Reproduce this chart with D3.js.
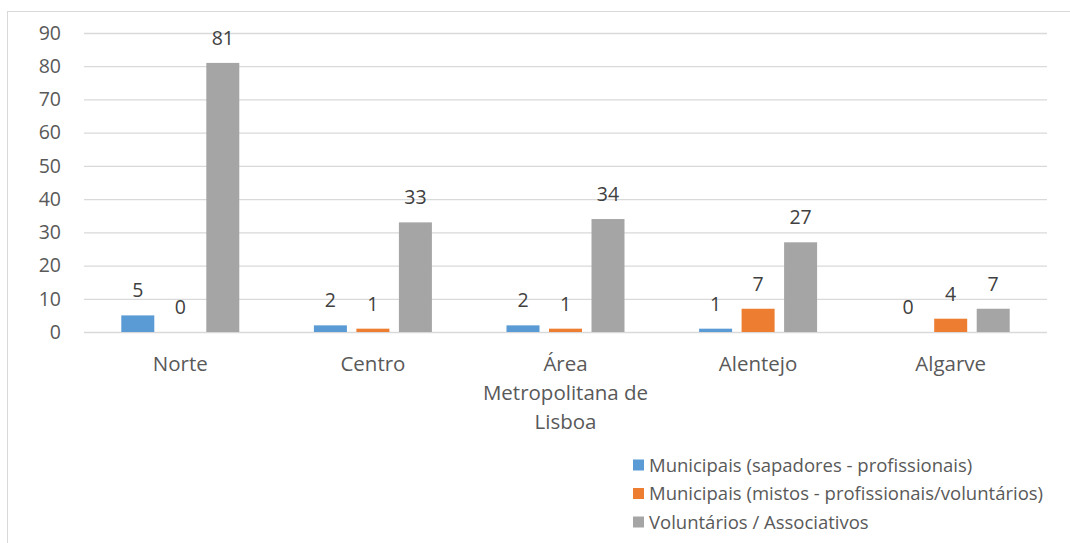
<!DOCTYPE html>
<html>
<head>
<meta charset="utf-8">
<script src="https://d3js.org/d3.v7.min.js"></script>
<style>
body { margin: 0; background: #fff; }
svg text { font-family: "Open Sans", Lato, sans-serif; }
</style>
</head>
<body>
<div id="graphic"></div>
<script>
var categories = ["Norte", "Centro", "Área Metropolitana de Lisboa", "Alentejo", "Algarve"];
var categoryLines = [["Norte"], ["Centro"], ["Área", "Metropolitana de", "Lisboa"], ["Alentejo"], ["Algarve"]];
var seriesNames = [
	"Municipais (sapadores - profissionais)",
	"Municipais (mistos - profissionais/voluntários)",
	"Voluntários / Associativos"
];
var sapadores = [5, 2, 2, 1, 0];
var mistos = [0, 1, 1, 7, 4];
var voluntarios = [81, 33, 34, 27, 7];
var yTicks = [0, 10, 20, 30, 40, 50, 60, 70, 80, 90];
var colours = ["#5B9BD5", "#ED7D31", "#A5A5A5"];

var width = 1070, height = 543;
var plot = { left: 84, right: 1047, top: 33, bottom: 332 };

var svg = d3.select("#graphic").append("svg")
	.attr("width", width)
	.attr("height", height);

// chart border
svg.append("rect")
	.attr("x", 7.5).attr("y", 11.5)
	.attr("width", 1080).attr("height", 560)
	.attr("fill", "none")
	.attr("stroke", "#D9D9D9")
	.attr("stroke-width", 1);

var x = d3.scaleBand().domain(categories).range([plot.left, plot.right]);
var y = d3.scaleLinear().domain([0, 90]).range([plot.bottom, plot.top]);

var barW = 33, gap = 9.5;
var xs = d3.scaleBand().domain(d3.range(3))
	.range([-(3 * barW + 2 * gap) / 2, (3 * barW + 2 * gap) / 2])
	.paddingInner(gap / (barW + gap));

// gridlines
var yAxis = d3.axisLeft(y).tickValues(yTicks).tickSize(-(plot.right - plot.left)).tickPadding(22);
var gy = svg.append("g").attr("transform", "translate(" + plot.left + ",0)").call(yAxis);
gy.select(".domain").remove();
gy.selectAll(".tick line").attr("stroke", "#D9D9D9").attr("stroke-width", 1.3);
gy.selectAll(".tick text")
	.attr("fill", "#595959")
	.style("font-size", "19.5px")
	.attr("x", -23);

var data = categories.map(function(c, i) {
	return { cat: c, values: [sapadores[i], mistos[i], voluntarios[i]] };
});

var groups = svg.selectAll(".grp").data(data).enter().append("g")
	.attr("class", "grp")
	.attr("transform", function(d) { return "translate(" + (x(d.cat) + x.bandwidth() / 2) + ",0)"; });

groups.selectAll("rect").data(function(d) { return d.values; }).enter().append("rect")
	.attr("x", function(d, i) { return xs(i); })
	.attr("width", xs.bandwidth())
	.attr("y", function(d) { return y(d); })
	.attr("height", function(d) { return y(0) - y(d); })
	.attr("fill", function(d, i) { return colours[i]; });

// value labels (blue zero in Algarve still labelled)
groups.selectAll(".lbl").data(function(d) { return d.values; }).enter().append("text")
	.attr("class", "lbl")
	.attr("x", function(d, i) { return xs(i) + xs.bandwidth() / 2; })
	.attr("y", function(d) { return y(d) - 18; })
	.attr("text-anchor", "middle")
	.attr("fill", "#404040")
	.style("font-size", "19.5px")
	.text(function(d) { return d; });

// category labels
var cl = svg.selectAll(".cat").data(categoryLines).enter().append("text")
	.attr("class", "cat")
	.attr("text-anchor", "middle")
	.attr("fill", "#595959")
	.style("font-size", "20.5px")
	.attr("transform", function(d, i) { return "translate(" + (x(categories[i]) + x.bandwidth() / 2) + ",371)"; });
cl.selectAll("tspan").data(function(d) { return d; }).enter().append("tspan")
	.attr("x", 0)
	.attr("dy", function(d, i) { return i ? 29 : 0; })
	.text(function(d) { return d; });

// legend
var legend = svg.selectAll(".key").data(seriesNames).enter().append("g")
	.attr("class", "key")
	.attr("transform", function(d, i) { return "translate(633," + (465 + i * 28.5) + ")"; });
legend.append("rect")
	.attr("x", 0).attr("y", -5.5)
	.attr("width", 11).attr("height", 11)
	.attr("fill", function(d, i) { return colours[i]; });
legend.append("text")
	.attr("x", 16).attr("y", 6.5)
	.attr("fill", "#595959")
	.style("font-size", "18.5px")
	.text(function(d) { return d; });
</script>
</body>
</html>
